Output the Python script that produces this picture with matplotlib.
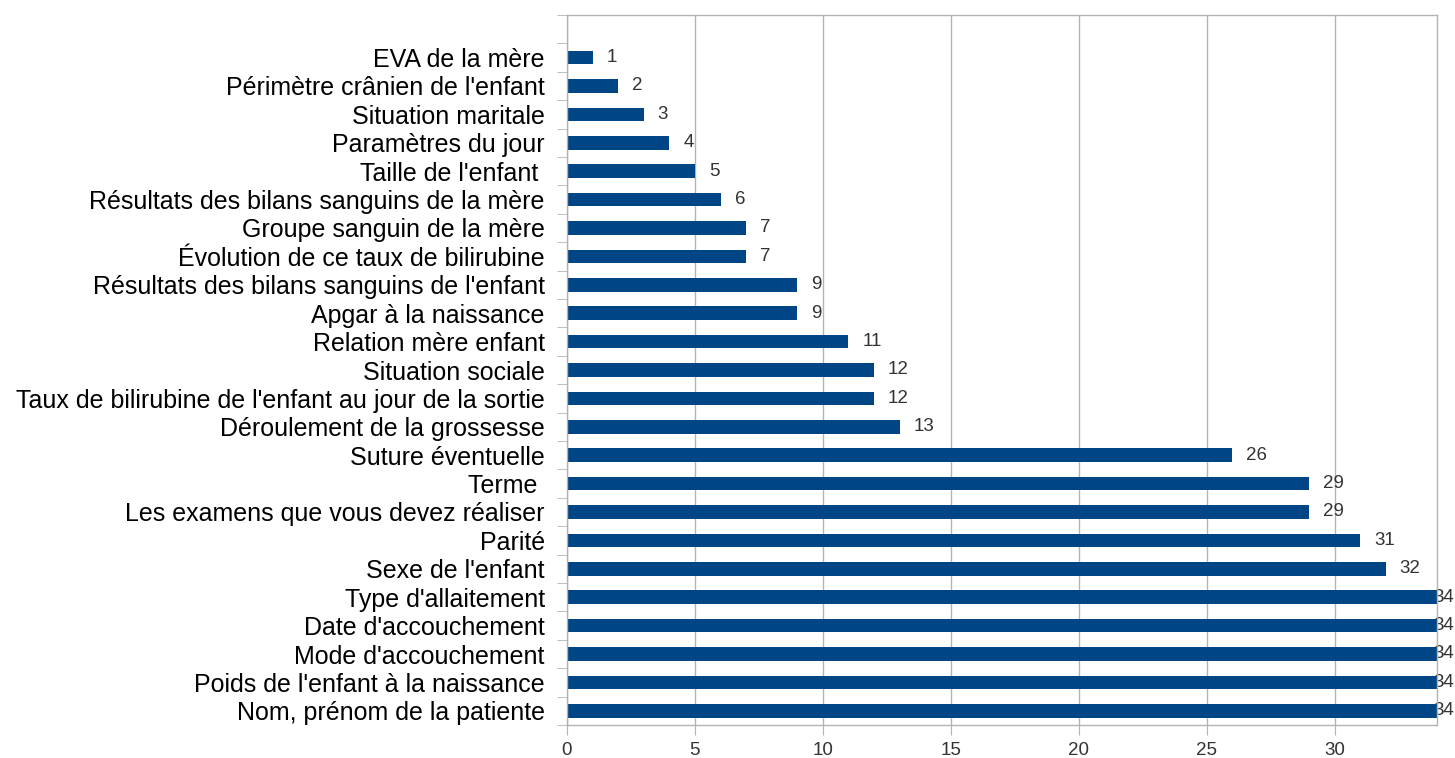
import numpy as np
import matplotlib.pyplot as plt

plt.rcParams['font.family'] = ['Liberation Sans', 'DejaVu Sans']

# top to bottom, as in the picture
categories = [
    "EVA de la mère",
    "Périmètre crânien de l'enfant",
    "Situation maritale",
    "Paramètres du jour",
    "Taille de l'enfant ",
    "Résultats des bilans sanguins de la mère",
    "Groupe sanguin de la mère",
    "Évolution de ce taux de bilirubine",
    "Résultats des bilans sanguins de l'enfant",
    "Apgar à la naissance",
    "Relation mère enfant",
    "Situation sociale",
    "Taux de bilirubine de l'enfant au jour de la sortie",
    "Déroulement de la grossesse",
    "Suture éventuelle",
    "Terme ",
    "Les examens que vous devez réaliser",
    "Parité",
    "Sexe de l'enfant",
    "Type d'allaitement",
    "Date d'accouchement",
    "Mode d'accouchement",
    "Poids de l'enfant à la naissance",
    "Nom, prénom de la patiente",
]
values = [1, 2, 3, 4, 5, 6, 7, 7, 9, 9, 11, 12, 12, 13, 26, 29, 29, 31, 32,
          34, 34, 34, 34, 34]
xticks = [0, 5, 10, 15, 20, 25, 30]

bar_color = '#004586'
grid_color = '#b3b3b3'

fig = plt.figure(figsize=(14.55, 7.58), dpi=100)
ax = fig.add_axes([567/1455, 1 - 725/758, 870/1455, 710/758])

n = len(categories)
y = np.arange(n)[::-1]
xmax = max(values)

ax.barh(y, values, height=0.48, color=bar_color, zorder=2)

for yi, v in zip(y, values):
    if v >= xmax:
        ax.annotate(str(v), (v, yi), xytext=(-4, 0), textcoords='offset pixels',
                    va='center', ha='left', fontsize=13.5, color='#333333',
                    zorder=1.5, annotation_clip=False)
    else:
        ax.annotate(str(v), (v, yi), xytext=(14, 0), textcoords='offset pixels',
                    va='center', ha='left', fontsize=13.5, color='#333333')

ax.set_xlim(0, xmax)
ax.set_ylim(-0.5, n + 0.5)

ax.set_xticks(xticks)
ax.set_xticklabels([str(t) for t in xticks])
ax.tick_params(axis='x', length=7, color=grid_color, labelsize=13.5,
               labelcolor='#333333', pad=5)
ax.grid(axis='x', color=grid_color, linewidth=1, zorder=0)

ax.set_yticks(y)
ax.set_yticklabels(categories)
ax.set_yticks(np.arange(-0.5, n + 1, 1), minor=True)
ax.tick_params(axis='y', which='major', length=0, labelsize=18, pad=16)
ax.tick_params(axis='y', which='minor', length=7, color=grid_color)

for s in ax.spines.values():
    s.set_color(grid_color)
    s.set_linewidth(1)
ax.set_axisbelow(True)

fig.savefig('out.png', dpi=100)
